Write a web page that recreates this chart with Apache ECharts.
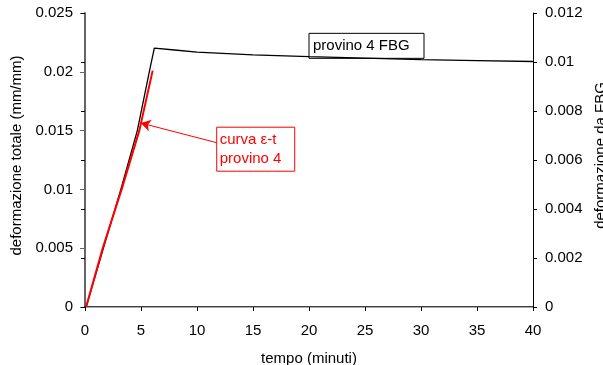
<!DOCTYPE html>
<html>
<head>
<meta charset="utf-8">
<script src="https://cdn.jsdelivr.net/npm/echarts@6/dist/echarts.min.js"></script>
<style>html,body{margin:0;padding:0;background:#fff;overflow:hidden}#c{width:603px;height:365px}</style>
</head>
<body>
<div id="c"></div>
<script>
// Data
const timeRed = [0.1, 1.58, 3.27, 4.85, 6.04];
const epsRed = [0, 0.005, 0.01, 0.015, 0.0201];
const timeFbg = [0.1, 1.64, 3.2, 4.67, 5.74, 6.19, 8, 10, 15, 20, 25, 30, 35, 40];
const epsFbg = [0, 0.0024, 0.0048, 0.0072, 0.0096, 0.01057, 0.01049, 0.0104, 0.01029, 0.01022, 0.01016, 0.0101, 0.01006, 0.01002];
const xTicks = [0, 5, 10, 15, 20, 25, 30, 35, 40];
const leftTicks = [0, 0.005, 0.01, 0.015, 0.02, 0.025];
const rightTicks = [0, 0.002, 0.004, 0.006, 0.008, 0.01, 0.012];
const arrowFrom = [11.76, 0.01397];
const arrowTo = [4.97, 0.01565];
const fbgLabelAt = [20.0, 0.01117];

const FONT = "'Liberation Sans', Arial, sans-serif";
const chart = echarts.init(document.getElementById('c'), null, {renderer: 'canvas'});
const fmt = v => String(+v.toFixed(4));
const titleStyle = {fontSize: 15, fontFamily: FONT, color: '#000'};
const labelStyle = {fontSize: 15, fontFamily: FONT, color: '#000'};
const gridBox = {left: 85, right: 70, top: 13, bottom: 58, containLabel: false, outerBoundsMode: 'none'};

const option = {
  animation: false,
  backgroundColor: '#fff',
  textStyle: {fontFamily: FONT, color: '#000'},
  grid: [Object.assign({}, gridBox), Object.assign({}, gridBox)],
  xAxis: [{
    gridIndex: 0, type: 'value', min: xTicks[0], max: xTicks[xTicks.length - 1], interval: 5,
    name: 'tempo (minuti)', nameLocation: 'middle', nameGap: 44,
    nameTextStyle: titleStyle,
    axisLine: {show: true, onZero: false, lineStyle: {color: '#000', width: 1.5}},
    axisTick: {show: true, length: 4, lineStyle: {color: '#000'}},
    axisLabel: Object.assign({margin: 16}, labelStyle),
    splitLine: {show: false}
  }, {
    gridIndex: 0, type: 'value', position: 'top', min: 0, max: 40,
    axisLine: {show: true, lineStyle: {color: '#aaa', width: 1}},
    axisTick: {show: false}, axisLabel: {show: false}, splitLine: {show: false}
  }, {
    gridIndex: 1, type: 'value', min: 0, max: 40, show: false
  }],
  yAxis: [{
    gridIndex: 0, type: 'value', min: leftTicks[0], max: leftTicks[leftTicks.length - 1], interval: 0.005,
    position: 'left',
    name: 'deformazione totale (mm/mm)', nameLocation: 'middle', nameGap: 51,
    nameTextStyle: Object.assign({padding: [0, 0, 0, 9]}, titleStyle),
    axisLine: {show: true, onZero: false, lineStyle: {color: '#666', width: 2}},
    axisTick: {show: true, length: 5, lineStyle: {color: '#666'}},
    minorTick: {show: false},
    axisLabel: Object.assign({margin: 12, formatter: fmt}, labelStyle),
    splitLine: {show: false}
  }, {
    gridIndex: 0, type: 'value', min: rightTicks[0], max: rightTicks[rightTicks.length - 1], interval: 0.002,
    position: 'right',
    name: 'deformazione da FBG', nameLocation: 'middle', nameGap: 60,
    nameTextStyle: Object.assign({padding: [0, 0, 0, 9]}, titleStyle),
    axisLine: {show: true, onZero: false, lineStyle: {color: '#000', width: 1}},
    axisTick: {show: true, length: 4, lineStyle: {color: '#000'}},
    axisLabel: Object.assign({margin: 12, formatter: fmt}, labelStyle),
    splitLine: {show: false}
  }, {
    gridIndex: 1, type: 'value', min: 0, max: 0.012, interval: 0.002, position: 'right',
    axisLine: {show: false},
    axisTick: {show: true, inside: true, length: 4, lineStyle: {color: '#000'}},
    axisLabel: {show: false}, splitLine: {show: false}
  }],
  series: [{
    name: 'provino 4 FBG', type: 'line', xAxisIndex: 0, yAxisIndex: 1,
    data: timeFbg.map((t, i) => [t, epsFbg[i]]),
    showSymbol: false, lineStyle: {color: '#000', width: 1.3}, z: 3
  }, {
    name: 'curva ε-t provino 4', type: 'line', xAxisIndex: 0, yAxisIndex: 0,
    data: timeRed.map((t, i) => [t, epsRed[i]]),
    showSymbol: false, lineStyle: {color: '#f00', width: 2}, z: 4,
    markLine: {
      silent: true, symbol: ['none', 'arrow'], symbolSize: [9, 10],
      lineStyle: {color: '#f00', width: 1, type: 'solid'}, label: {show: false},
      data: [[{coord: arrowFrom}, {coord: arrowTo}]]
    }
  }]
};
chart.setOption(option);

// Annotation boxes positioned from data coordinates
const a = chart.convertToPixel({xAxisIndex: 0, yAxisIndex: 0}, arrowFrom);
const b = chart.convertToPixel({xAxisIndex: 0, yAxisIndex: 1}, fbgLabelAt);
chart.setOption({
  graphic: [{
    type: 'group', left: a[0] - 0.5, top: a[1] - 16,
    children: [
      {type: 'rect', shape: {x: 0, y: 0, width: 78, height: 44}, style: {fill: '#fff', stroke: '#f00', lineWidth: 1}},
      {type: 'text', x: 3, y: 3, style: {text: 'curva ε-t\nprovino 4', fill: '#f00', font: '15px ' + FONT, lineHeight: 19}}
    ]
  }, {
    type: 'group', left: b[0] - 0.5, top: b[1] - 0.5,
    children: [
      {type: 'rect', shape: {x: 0, y: 0, width: 115, height: 25}, style: {fill: '#fff', stroke: '#000', lineWidth: 1}},
      {type: 'text', x: 4, y: 5, style: {text: 'provino 4 FBG', fill: '#000', font: '15px ' + FONT}}
    ]
  }]
});
</script>
</body>
</html>
